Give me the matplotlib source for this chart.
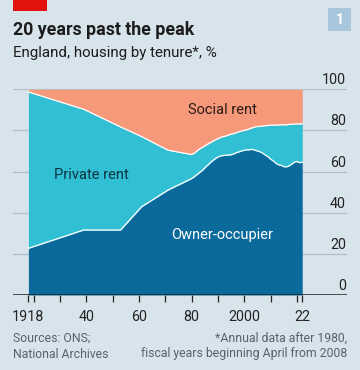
import matplotlib
matplotlib.use("Agg")
import matplotlib.pyplot as plt
import matplotlib.transforms as mtransforms
from matplotlib.patches import Rectangle

# ---- data ----
years = [1918, 1939, 1953, 1961, 1971,
         1980, 1981, 1982, 1983, 1984, 1985, 1986, 1987, 1988, 1989,
         1990, 1991, 1992, 1993, 1994, 1995, 1996, 1997, 1998, 1999,
         2000, 2001, 2002, 2003, 2004, 2005, 2006, 2007, 2008, 2009,
         2010, 2011, 2012, 2013, 2014, 2015, 2016, 2017, 2018, 2019,
         2020, 2021, 2022]
owner = [22.7, 31.6, 31.6, 42.9, 51.0,
         56.6, 57.5, 58.5, 59.5, 60.5, 61.8, 63.0, 64.2, 65.3, 66.3,
         67.1, 67.6, 67.8, 68.0, 68.0, 68.2, 68.6, 69.2, 69.6, 70.0,
         70.4, 70.6, 70.6, 70.8, 70.4, 70.0, 69.6, 68.9, 68.0, 67.2,
         66.0, 65.2, 64.0, 63.3, 63.0, 62.4, 62.3, 62.8, 63.6, 64.6,
         64.9, 64.3, 64.6]
private_rent = [76.0, 58.7, 50.1, 34.1, 19.4,
                11.7, 11.5, 11.5, 11.5, 11.2, 10.7, 10.3, 9.8, 9.4, 9.1,
                8.9, 9.0, 9.2, 9.3, 9.8, 10.0, 9.9, 9.7, 9.8, 9.7,
                9.7, 9.7, 10.2, 10.5, 11.2, 12.0, 12.3, 13.3, 14.3, 15.2,
                16.6, 17.3, 18.7, 19.3, 19.8, 20.3, 20.5, 20.1, 19.4, 18.5,
                18.3, 18.8, 18.7]
social_rent = [100 - o - p for o, p in zip(owner, private_rent)]

xtick_pos = [1918, 1940, 1960, 1980, 2000, 2022]
xtick_labels = ["1918", "40", "60", "80", "2000", "22"]
minor_ticks = [1920, 1930, 1950, 1970, 1990, 2010, 2020]
yticks = [0, 20, 40, 60, 80, 100]

# ---- style ----
BG = "#d8e4ec"
C_OWN = "#0b6a9c"
C_PRI = "#30bfd3"
C_SOC = "#f6997b"
GRID = "#b3bfc7"
TXT = "#1c1c1c"
GREY = "#55636c"
FONT = ["Roboto", "DejaVu Sans"]
plt.rcParams["font.family"] = FONT

W, H = 360, 370
fig = plt.figure(figsize=(W / 100, H / 100), dpi=100, facecolor=BG)

def px2fig(x, y):
    return x / W, 1 - y / H

left, right, top, bottom = 13, 347, 89.3, 295
ax = fig.add_axes([left / W, 1 - bottom / H, (right - left) / W, (bottom - top) / H])
ax.set_facecolor(BG)
ax.set_xlim(1912.15, 2039.0)
ax.set_ylim(0, 100)

for y in yticks[1:]:
    ax.axhline(y, color=GRID, lw=0.9, zorder=0)
ax.axhline(0, color="#222222", lw=1.1, zorder=5)

b1 = owner
b2 = [o + p for o, p in zip(owner, private_rent)]
b3 = [a + s for a, s in zip(b2, social_rent)]
ax.fill_between(years, 0, b1, color=C_OWN, lw=0, zorder=2)
ax.fill_between(years, b1, b2, color=C_PRI, lw=0, zorder=2)
ax.fill_between(years, b2, b3, color=C_SOC, lw=0, zorder=2)
ax.plot(years, b1, color="white", lw=0.9, zorder=3)
ax.plot(years, b2, color="white", lw=0.9, zorder=3)

for s in ax.spines.values():
    s.set_visible(False)
ax.set_yticks([])
ax.set_xticks(xtick_pos)
ax.set_xticklabels(xtick_labels)
ax.set_xticks(minor_ticks, minor=True)
ax.tick_params(axis="x", which="both", length=5, width=0.9, color="#222222",
               labelsize=10.3, labelcolor="#222222", pad=5.5)

trans = mtransforms.blended_transform_factory(ax.transAxes, ax.transData)
for y in yticks:
    ax.text(0.997, y + 1.0, str(y), transform=trans, ha="right", va="bottom",
            fontsize=10.3, color="#222222", zorder=6)

ax.text(1991.6, 89.8, "Social rent", ha="center", va="center", fontsize=10.5, color="#2a1a14", zorder=6)
ax.text(1942.1, 58.3, "Private rent", ha="center", va="center", fontsize=10.5, color="#0d3442", zorder=6)
ax.text(1991.7, 29.1, "Owner-occupier", ha="center", va="center", fontsize=10.5, color="white", zorder=6)

# header
fig.patches.append(Rectangle(px2fig(13, 10.5), 34 / W, 10.5 / H, transform=fig.transFigure,
                             color="#e3120b", lw=0))
fig.patches.append(Rectangle(px2fig(328, 31), 23 / W, 23 / H, transform=fig.transFigure,
                             color="#a8c6dc", lw=0))
fig.text(*px2fig(339.5, 19.5), "1", ha="center", va="center", fontsize=10, color="white",
         fontweight="bold")
fig.text(*px2fig(13, 35), "20 years past the peak", ha="left", va="baseline",
         fontsize=12.8, fontweight="bold", color=TXT)
fig.text(*px2fig(13, 57), "England, housing by tenure*, %", ha="left", va="baseline",
         fontsize=10.9, color=TXT)

# footer
FS = 8.8
fig.text(*px2fig(13, 341.5), "Sources: ONS;", ha="left", va="baseline", fontsize=FS, color=GREY)
fig.text(*px2fig(13, 357.5), "National Archives", ha="left", va="baseline", fontsize=FS, color=GREY)
fig.text(*px2fig(347, 341.5), "*Annual data after 1980,", ha="right", va="baseline", fontsize=FS, color=GREY)
fig.text(*px2fig(347, 357.5), "fiscal years beginning April from 2008", ha="right", va="baseline",
         fontsize=FS, color=GREY)

fig.savefig("out.png", dpi=100, facecolor=BG)
